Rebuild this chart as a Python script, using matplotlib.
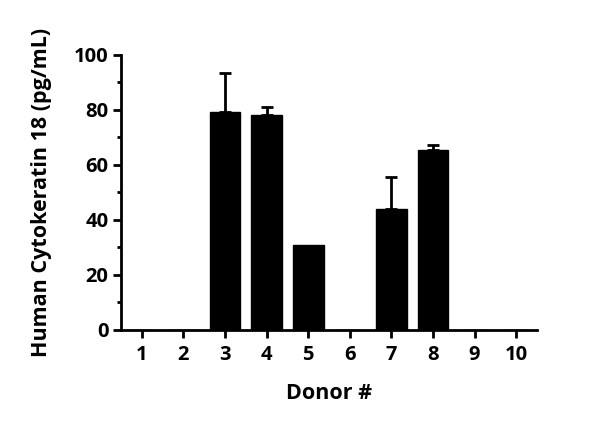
import matplotlib
matplotlib.use("Agg")
import matplotlib.pyplot as plt
from matplotlib.ticker import MultipleLocator

donors = [1, 2, 3, 4, 5, 6, 7, 8, 9, 10]
values = [0, 0, 79.3, 78.2, 31.0, 0, 43.9, 65.3, 0, 0]
errors = [0, 0, 14.0, 2.8, 0, 0, 11.9, 1.8, 0, 0]
yticks = [0, 20, 40, 60, 80, 100]

plt.rcParams['font.family'] = ['Open Sans', 'DejaVu Sans']
plt.rcParams['font.weight'] = 'bold'

fig = plt.figure(figsize=(6, 4.23), dpi=100)
ax = fig.add_axes([0.2017, 0.2199, 0.6933, 0.6501])

ax.bar(donors, values, width=0.74, color='black', edgecolor='black', zorder=2)
ex = [d for d, e in zip(donors, errors) if e > 0]
ev = [v for v, e in zip(values, errors) if e > 0]
ee = [e for e in errors if e > 0]
ax.errorbar(ex, ev, yerr=[[0]*len(ee), ee], fmt='none',
            ecolor='black', elinewidth=2, capsize=4.5, capthick=2, zorder=1)

ax.set_xlim(0.5, 10.5)
ax.set_ylim(0, 100)
ax.set_xticks(donors)
ax.set_xticklabels([str(d) for d in donors])
ax.set_yticks(yticks)
ax.yaxis.set_minor_locator(MultipleLocator(10))

for s in ['top', 'right']:
    ax.spines[s].set_visible(False)
for s in ['left', 'bottom']:
    ax.spines[s].set_linewidth(2)

ax.tick_params(axis='both', which='major', width=2, length=6, labelsize=14.5, pad=3)
ax.tick_params(axis='x', which='major', pad=5)
ax.tick_params(axis='y', which='minor', width=2, length=3)
for lab in ax.get_xticklabels() + ax.get_yticklabels():
    lab.set_fontweight('bold')

ax.set_xlabel('Donor #', fontsize=15.5, fontweight='bold', labelpad=13)
ax.set_ylabel('Human Cytokeratin 18 (pg/mL)', fontsize=15.5, fontweight='bold', labelpad=16)

fig.savefig('out.png', dpi=100)
